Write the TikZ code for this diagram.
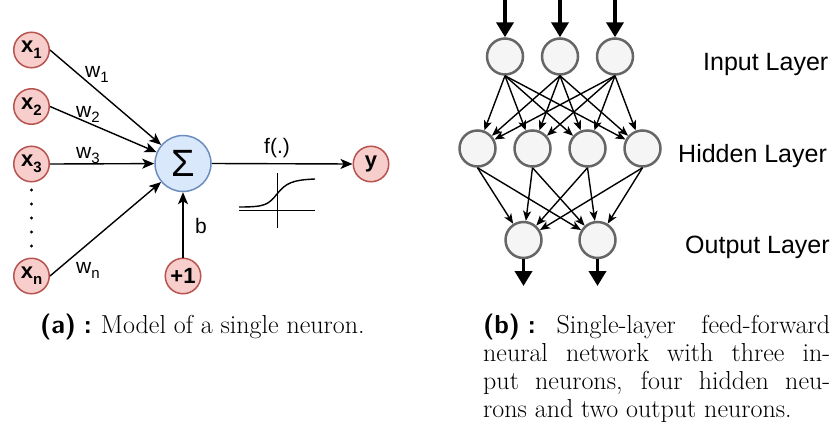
\documentclass[tikz,border=0pt]{standalone}
\usepackage{fontspec}
\newfontfamily\arial{Liberation Sans}
\usetikzlibrary{arrows.meta}
\definecolor{redfill}{HTML}{F8CECC}
\definecolor{redline}{HTML}{B85450}
\definecolor{bluefill}{HTML}{DAE8FC}
\definecolor{blueline}{HTML}{6C8EBF}
\definecolor{grayfill}{HTML}{F5F5F5}
\definecolor{grayline}{HTML}{666666}
\newcommand\mysub[1]{\raisebox{-0.28em}{\fontsize{15}{15}\selectfont #1}}
\newcommand\caplabel[1]{\textsf{\bfseries (#1)\hspace{0.3em}:}\hspace{0.35em plus 0.1em}}
\tikzset{
  xnode/.style={circle, draw=redline, fill=redfill, line width=1.5pt, minimum size=35.5pt, inner sep=0pt,
    font=\arial\bfseries\fontsize{22}{22}\selectfont},
  signode/.style={circle, draw=blueline, fill=bluefill, line width=1.5pt, minimum size=56pt, inner sep=0pt,
    font=\arial\fontsize{38}{38}\selectfont},
  nnode/.style={circle, draw=grayline, fill=grayfill, line width=2.5pt, minimum size=36pt, inner sep=0pt},
  conn/.style={line width=1.4pt, -{Stealth[length=12pt,width=10pt,inset=3pt]}},
  nconn/.style={line width=1.4pt, -{Stealth[length=10pt,width=8pt,inset=2.5pt]}},
  bigarrow/.style={line width=3.8pt, -{Triangle[length=15pt,width=17pt]}},
  lbl/.style={inner sep=0pt, anchor=base west, font=\arial\fontsize{21}{21}\selectfont},
  layerlbl/.style={inner sep=0pt, anchor=base west, font=\arial\fontsize{25}{25}\selectfont},
  captxt/.style={inner sep=0pt, anchor=base west, font=\fontsize{26}{28}\selectfont},
}
\begin{document}
\begin{tikzpicture}[x=1pt,y=-1pt]
\useasboundingbox (0,0) rectangle (837,423);
% ---------- (a) single neuron ----------
\node[xnode] (x1) at (31.5,50) {x\mysub{1}};
\node[xnode] (x2) at (31.5,106.5) {x\mysub{2}};
\node[xnode] (x3) at (31.5,164) {x\mysub{3}};
\node[xnode] (xn) at (31.5,276) {x\mysub{n}};
\foreach \yy in {190,204,218,232,246} \fill (31.5,\yy) circle (1.6);
\node[signode] (sig) at (183,163.5) {Σ};
\node[xnode] (p1) at (183,276) {+1};
\node[xnode] (y) at (371,164) {y};
\draw[conn] (x1.east) -- (sig);
\draw[conn] (x2.east) -- (sig);
\draw[conn] (x3.east) -- (sig);
\draw[conn] (xn.east) -- (sig);
\draw[conn] (p1) -- (sig);
\draw[conn] (sig.east) -- (y.west);
\node[lbl] (w1) at (85,77) {w\mysub{1}};
\node[lbl] (w2) at (76,117) {w\mysub{2}};
\node[lbl] (w3) at (76,158) {w\mysub{3}};
\node[lbl] (wn) at (76,273) {w\mysub{n}};
\node[lbl] (bl) at (195,233) {b};
\node[lbl, anchor=base] (fl) at (277,153) {f(.)};
% sigmoid sketch
\draw[line width=0.9pt] (239,210) -- (315,210);
\draw[line width=0.9pt] (277,173) -- (277,228);
\draw[line width=1.4pt] (239,207) .. controls (265,207) and (268,205) .. (277,194)
   .. controls (286,183) and (292,180) .. (315,179);
% ---------- (b) network ----------
\node[nnode] (i1) at (505,56.5) {};
\node[nnode] (i2) at (560,56.5) {};
\node[nnode] (i3) at (615,56.5) {};
\node[nnode] (h1) at (477.5,148.5) {};
\node[nnode] (h2) at (532.5,148.5) {};
\node[nnode] (h3) at (587.5,148.5) {};
\node[nnode] (h4) at (642.5,148.5) {};
\node[nnode] (o1) at (523.5,240) {};
\node[nnode] (o2) at (597.5,240) {};
\coordinate (t1) at (505,0);
\coordinate (t2) at (560,0);
\coordinate (t3) at (615,0);
\coordinate (e1) at (523.5,286);
\coordinate (e2) at (597.5,286);
\foreach \i in {1,2,3} {
  \draw[bigarrow] (t\i) -- (i\i.north);
  \foreach \j in {1,2,3,4} \draw[nconn] (i\i.south) -- (h\j);
}
\foreach \j in {1,2,3,4} {
  \foreach \k in {1,2} \draw[nconn] (h\j.south) -- (o\k);
}
\draw[bigarrow] (o1.south) -- (e1);
\draw[bigarrow] (o2.south) -- (e2);
\node[layerlbl] (li) at (703,70) {Input Layer};
\node[layerlbl] (lh) at (678,162) {Hidden Layer};
\node[layerlbl] (lo) at (685,253) {Output Layer};
% ---------- captions ----------
\node[captxt] (capa) at (40,333) {\caplabel{a}Model of a single neuron.};
\node[captxt] (cb1) at (483,333) {\makebox[347pt][s]{\caplabel{b}Single-layer feed-forward}};
\node[captxt] (cb2) at (483,361) {\makebox[347pt][s]{neural network with three in-}};
\node[captxt] (cb3) at (483,389) {\makebox[347pt][s]{put neurons, four hidden neu-}};
\node[captxt] (cb4) at (483,417) {rons and two output neurons.};
\end{tikzpicture}
\end{document}
